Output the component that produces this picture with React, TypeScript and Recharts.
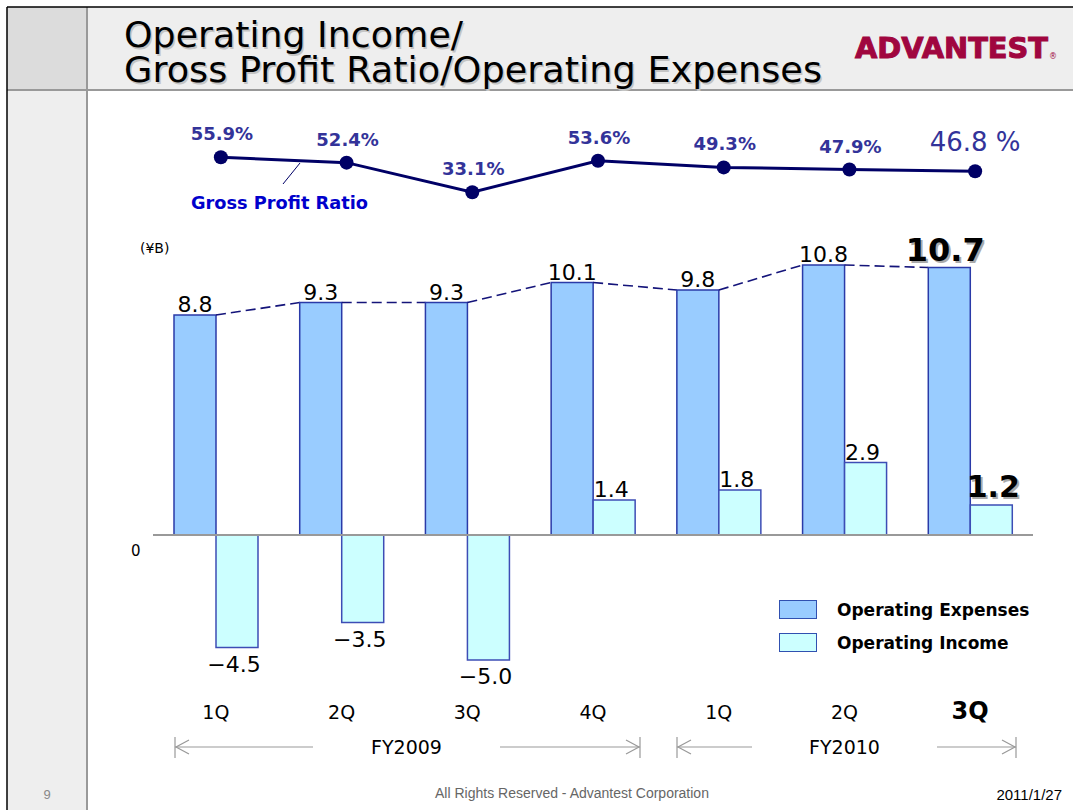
import {
  ComposedChart,
  LineChart,
  Bar,
  Line,
  XAxis,
  YAxis,
  ReferenceLine,
  LabelList,
  Legend,
} from "recharts";

const quarters = ["1Q", "2Q", "3Q", "4Q", "1Q", "2Q", "3Q"];
const operatingExpenses = [8.8, 9.3, 9.3, 10.1, 9.8, 10.8, 10.7];
const operatingIncome = [-4.5, -3.5, -5.0, 1.4, 1.8, 2.9, 1.2];
const grossProfitRatio = [55.9, 52.4, 33.1, 53.6, 49.3, 47.9, 46.8];

const W = 1073;
const H = 810;
const FONT = "'DejaVu Sans', Verdana, sans-serif";
const LEFT = 153;
const RIGHT = 40;
const STEP = (W - LEFT - RIGHT) / quarters.length;
const LAST = quarters.length - 1;

const data = quarters.map((q, i) => ({
  q,
  expenses: operatingExpenses[i],
  income: operatingIncome[i],
  gpr: grossProfitRatio[i],
}));

const fmt = (v: number) => (v < 0 ? "\u2212" + Math.abs(v).toFixed(1) : v.toFixed(1));

// expense bar + dashed connector to the next bar's top (series lines)
function ExpenseBar(props: any) {
  const { x, y, width, height, index } = props;
  const ppu = height / operatingExpenses[index];
  const base = y + height;
  const next = operatingExpenses[index + 1];
  return (
    <g>
      <rect x={x} y={y} width={width} height={height} fill="#99ccff" stroke="#2a3aa8" strokeWidth={1.5} />
      {next !== undefined && (
        <line
          x1={x + width}
          y1={y}
          x2={x + STEP}
          y2={base - next * ppu}
          stroke="#14147a"
          strokeWidth={1.6}
          strokeDasharray="10 5"
        />
      )}
    </g>
  );
}

function IncomeBar(props: any) {
  const { x, y, width, height } = props;
  const top = Math.min(y, y + height);
  return (
    <rect x={x} y={top} width={width} height={Math.abs(height)} fill="#ccffff" stroke="#3d4db5" strokeWidth={1.5} />
  );
}

function BigText({ x, y, size, children }: any) {
  return (
    <g>
      <text x={x + 2} y={y + 2} textAnchor="middle" fontSize={size} fontWeight="bold" fontFamily={FONT} fill="#aaa">
        {children}
      </text>
      <text x={x} y={y} textAnchor="middle" fontSize={size} fontWeight="bold" fontFamily={FONT} fill="#000">
        {children}
      </text>
    </g>
  );
}

const expenseLabel = (p: any) => {
  const { x, y, width, index, value } = p;
  if (index === LAST) return <BigText x={x + width / 2 - 4} y={y - 7} size={32}>{fmt(value)}</BigText>;
  return (
    <text x={x + width / 2} y={y - 3} textAnchor="middle" fontSize={22} fontFamily={FONT} fill="#000">
      {fmt(value)}
    </text>
  );
};

const incomeLabel = (p: any) => {
  const { x, y, width, height, index, value } = p;
  const top = Math.min(y, y + height);
  const bottom = Math.max(y, y + height);
  if (index === LAST) return <BigText x={x + width / 2 + 2} y={top - 8} size={30}>{fmt(value)}</BigText>;
  const ty = value < 0 ? bottom + 24 : top - 3;
  return (
    <text x={x + width / 2 - 3} y={ty} textAnchor="middle" fontSize={22} fontFamily={FONT} fill="#000">
      {fmt(value)}
    </text>
  );
};

const gprLabel = (p: any) => {
  const { x, y, index, value } = p;
  if (index === LAST)
    return (
      <text x={x} y={y - 20} textAnchor="middle" fontSize={26} fontFamily={FONT} fill="#333399">
        {value.toFixed(1) + " %"}
      </text>
    );
  return (
    <text x={x + 1} y={y - 17} textAnchor="middle" fontSize={18} fontWeight="bold" fontFamily={FONT} fill="#333399">
      {value.toFixed(1) + "%"}
    </text>
  );
};

const QuarterTick = (p: any) => {
  const { x, y, index, payload } = p;
  const last = index === LAST;
  return (
    <text
      x={x}
      y={y + 26}
      textAnchor="middle"
      fontSize={last ? 24 : 19}
      fontWeight={last ? "bold" : "normal"}
      fontFamily={FONT}
      fill="#000"
    >
      {payload.value}
    </text>
  );
};

const LegendBox = ({ payload }: any) => (
  <div style={{ fontFamily: FONT }}>
    {(payload || []).map((e: any) => (
      <div key={e.value} style={{ display: "flex", alignItems: "center", height: 33 }}>
        <div
          style={{
            width: 36,
            height: 17,
            background: e.color,
            border: "1.5px solid #3050b0",
            marginRight: 20,
          }}
        />
        <span style={{ fontSize: 17, fontWeight: "bold", color: "#000" }}>{e.value}</span>
      </div>
    ))}
  </div>
);

function Bracket({ x1, x2, gapL, gapR, label }: any) {
  const y = 747;
  const c = "#999";
  return (
    <g stroke={c} strokeWidth={1.2} fill="none">
      <line x1={x1} y1={737} x2={x1} y2={758} />
      <line x1={x2} y1={737} x2={x2} y2={758} />
      <line x1={x1} y1={y} x2={gapL} y2={y} />
      <line x1={gapR} y1={y} x2={x2} y2={y} />
      <polyline points={`${x1 + 14},${y - 7} ${x1 + 1},${y} ${x1 + 14},${y + 7}`} />
      <polyline points={`${x2 - 14},${y - 7} ${x2 - 1},${y} ${x2 - 14},${y + 7}`} />
      <text
        x={(gapL + gapR) / 2}
        y={754}
        textAnchor="middle"
        fontSize={19}
        fontFamily={FONT}
        fill="#000"
        stroke="none"
      >
        {label}
      </text>
    </g>
  );
}

function Frame() {
  return (
    <svg width={W} height={H} style={{ position: "absolute", left: 0, top: 0 }}>
      <rect x={0} y={0} width={W} height={H} fill="#fff" />
      <rect x={7} y={7} width={80} height={83} fill="#dcdcdc" />
      <rect x={7} y={90} width={80} height={H - 90} fill="#eeeeee" />
      <rect x={88} y={7} width={W - 88} height={83} fill="#eeeeee" />
      <line x1={87} y1={7} x2={87} y2={H} stroke="#999" strokeWidth={2} />
      <line x1={7} y1={90} x2={W} y2={90} stroke="#999" strokeWidth={2} />
      <line x1={7} y1={7} x2={W} y2={7} stroke="#000" strokeWidth={1.5} />
      <line x1={7} y1={7} x2={7} y2={H} stroke="#000" strokeWidth={1.5} />

      {/* title */}
      <g fontFamily={FONT} fontSize={36}>
        <text x={125.5} y={48.5} fill="#c4c4c4" textLength={339} lengthAdjust="spacingAndGlyphs">Operating Income/</text>
        <text x={124} y={47} fill="#000" textLength={339} lengthAdjust="spacingAndGlyphs">Operating Income/</text>
        <text x={125.5} y={83.5} fill="#c4c4c4" textLength={698} lengthAdjust="spacingAndGlyphs">
          Gross Profit Ratio/Operating Expenses
        </text>
        <text x={124} y={82} fill="#000" textLength={698} lengthAdjust="spacingAndGlyphs">
          Gross Profit Ratio/Operating Expenses
        </text>
      </g>
      <text
        x={855}
        y={58}
        fontFamily={FONT}
        fontSize={28}
        fontWeight="bold"
        fill="#a0063f"
        stroke="#a0063f"
        strokeWidth={1}
        textLength={193}
        lengthAdjust="spacingAndGlyphs"
      >
        ADVANTEST
      </text>
      <text x={1049} y={59} fontFamily={FONT} fontSize={8} fill="#a0063f">®</text>

      {/* annotations */}
      <text x={191} y={209} fontFamily={FONT} fontSize={18} fontWeight="bold" fill="#0000cc" textLength={177} lengthAdjust="spacingAndGlyphs">
        Gross Profit Ratio
      </text>
      <line x1={283} y1={184} x2={300} y2={163} stroke="#000066" strokeWidth={1} />
      <text x={140} y={253} fontFamily={FONT} fontSize={14} fill="#000">(¥B)</text>
      <text x={131} y={556} fontFamily={FONT} fontSize={15} fill="#000">0</text>

      <Bracket x1={175} x2={640} gapL={313} gapR={500} label="FY2009" />
      <Bracket x1={677} x2={1016} gapL={752} gapR={937} label="FY2010" />

      {/* footer */}
      <text x={47} y={799} textAnchor="middle" fontFamily="'Liberation Sans', Arial, sans-serif" fontSize={13} fill="#888">9</text>
      <text x={572} y={798} textAnchor="middle" fontFamily="'Liberation Sans', Arial, sans-serif" fontSize={14} fill="#666">
        All Rights Reserved - Advantest Corporation
      </text>
      <text x={1062} y={800} textAnchor="end" fontFamily="'Liberation Sans', Arial, sans-serif" fontSize={15} fill="#000">
        2011/1/27
      </text>
    </svg>
  );
}

export default function App() {
  return (
    <div style={{ position: "fixed", left: 0, top: 0, width: W, height: H, overflow: "hidden", background: "#fff" }}>
      <Frame />
      <div style={{ position: "absolute", left: 0, top: 0 }}>
        <ComposedChart
          width={W}
          height={H}
          data={data}
          margin={{ top: 235, right: RIGHT, bottom: 85, left: LEFT }}
          barGap={0}
        >
          <XAxis dataKey="q" height={40} axisLine={false} tickLine={false} tick={QuarterTick} interval={0} />
          <YAxis hide domain={[-6, 12]} />
          <ReferenceLine y={0} stroke="#999" strokeWidth={2} />
          <Bar dataKey="expenses" name="Operating Expenses" fill="#99ccff" barSize={42} shape={ExpenseBar} isAnimationActive={false}>
            <LabelList dataKey="expenses" content={expenseLabel} />
          </Bar>
          <Bar dataKey="income" name="Operating Income" fill="#ccffff" barSize={42} shape={IncomeBar} isAnimationActive={false}>
            <LabelList dataKey="income" content={incomeLabel} />
          </Bar>
          <Legend
            layout="vertical"
            align="center"
            verticalAlign="middle"
            content={LegendBox}
            wrapperStyle={{ position: "absolute", left: 779, top: 593, width: 290 }}
          />
        </ComposedChart>
      </div>
      <div style={{ position: "absolute", left: 0, top: 0 }}>
        <LineChart width={W} height={230} data={data} margin={{ top: 151, right: RIGHT - 5, bottom: 33, left: LEFT + 5 }}>
          <XAxis dataKey="q" hide padding={{ left: STEP / 2, right: STEP / 2 }} />
          <YAxis hide domain={[30, 60]} />
          <Line
            dataKey="gpr"
            stroke="#000066"
            strokeWidth={3}
            dot={{ r: 7, fill: "#000066", stroke: "none" }}
            isAnimationActive={false}
          >
            <LabelList dataKey="gpr" content={gprLabel} />
          </Line>
        </LineChart>
      </div>
    </div>
  );
}
